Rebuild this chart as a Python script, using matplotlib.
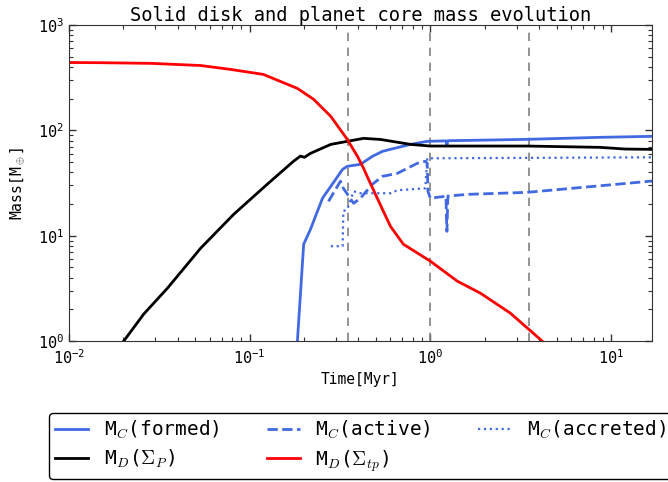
import math
import matplotlib
matplotlib.use('Agg')
import matplotlib.pyplot as plt
from matplotlib.ticker import FuncFormatter, LogLocator

plt.rcParams['font.family'] = 'DejaVu Sans Mono'
plt.rcParams['mathtext.fontset'] = 'cm'

# time [Myr] / mass [M_earth]
t_formed = [0.183, 0.199, 0.217, 0.253, 0.327, 0.347, 0.410, 0.478, 0.543, 0.601,
            0.776, 0.961, 1.22, 1.235, 1.25, 1.66, 3.43, 8.69, 16.4, 17.0]
m_formed = [0.9, 8.3, 11.5, 22.7, 42.7, 45.6, 47.6, 56.7, 63.2, 66.1,
            73.6, 78.7, 79.5, 72.0, 79.8, 80.4, 82.2, 85.9, 87.7, 88.0]

t_active = [0.273, 0.318, 0.330, 0.376, 0.410, 0.478, 0.543, 0.657, 0.847, 0.938,
            0.961, 0.970, 1.0, 1.22, 1.235, 1.25, 1.62, 3.43, 10.8, 16.4, 17.0]
m_active = [21.2, 32.9, 28.2, 20.3, 22.7, 30.8, 36.6, 39.1, 48.7, 50.9,
            48.7, 26.4, 22.7, 23.7, 11.0, 23.8, 24.7, 25.8, 30.8, 32.9, 33.0]

t_accreted = [0.281, 0.327, 0.330, 0.347, 0.376, 0.410, 0.601, 0.657, 0.938, 0.961,
              16.4, 17.0]
m_accreted = [7.95, 7.95, 17.1, 17.8, 26.4, 25.3, 25.3, 27.0, 28.2, 54.3,
              55.5, 55.5]

t_disk = [0.0195, 0.0201, 0.0259, 0.0352, 0.0535, 0.0817, 0.1256, 0.175, 0.191,
          0.201, 0.217, 0.281, 0.347, 0.427, 0.530, 0.700, 0.776, 1.0, 3.43,
          8.7, 12.0, 17.0]
m_disk = [0.95, 1.0, 1.8, 3.2, 7.6, 16.0, 31.0, 51.0, 57.0,
          55.5, 60.5, 73.6, 78.7, 84.0, 82.0, 75.8, 73.6, 71.0, 71.0,
          69.0, 66.5, 66.0]

t_gas = [0.01, 0.015, 0.0284, 0.0535, 0.0785, 0.119, 0.184, 0.226, 0.281, 0.347,
         0.395, 0.427, 0.454, 0.543, 0.601, 0.709, 1.0, 1.41, 1.89, 2.77, 4.05, 4.6]
m_gas = [441, 439, 433, 413, 379, 340, 250, 197, 136, 82.0,
         56.7, 43.6, 34.5, 17.8, 12.3, 8.3, 5.73, 3.70, 2.85, 1.84, 1.04, 0.85]

t_marks = [0.35, 1.0, 3.5]

fig = plt.figure(figsize=(6.68, 4.82), dpi=100)
ax = fig.add_axes([0.1033, 0.2925, 0.8727, 0.6555])

for tm in t_marks:
    ax.axvline(tm, color='gray', lw=1.2, dashes=(5, 4))

blue = '#4169e1'
l_formed, = ax.plot(t_formed, m_formed, color=blue, lw=2, label=r'M$_C$(formed)')
l_active, = ax.plot(t_active, m_active, color=blue, lw=2, ls='--', label=r'M$_C$(active)')
l_accr, = ax.plot(t_accreted, m_accreted, color=blue, lw=1.6, ls=':', label=r'M$_C$(accreted)')
l_disk, = ax.plot(t_disk, m_disk, color='black', lw=2, label=r'M$_D$($\Sigma_P$)')
l_gas, = ax.plot(t_gas, m_gas, color='red', lw=2, label=r'M$_D$($\Sigma_{tp}$)')

ax.set_xscale('log')
ax.set_yscale('log')
ax.set_xlim(0.01, 16.85)
ax.set_ylim(1, 1000)

fmt = FuncFormatter(lambda v, pos: r'$\mathregular{10^{%d}}$' % round(math.log10(v)))
ax.xaxis.set_major_formatter(fmt)
ax.yaxis.set_major_formatter(fmt)
ax.xaxis.set_major_locator(LogLocator(base=10))
ax.yaxis.set_major_locator(LogLocator(base=10))
ax.tick_params(which='both', direction='in', top=True, right=True, labelsize=11,
               color='#333333')
ax.tick_params(which='major', length=5, width=1)
ax.tick_params(axis='x', which='major', pad=5)
ax.tick_params(which='minor', length=3, width=0.8)
for sp in ax.spines.values():
    sp.set_color('#333333')

ax.set_title('Solid disk and planet core mass evolution', fontsize=13.5, pad=3)
ax.set_xlabel('Time[Myr]', fontsize=10.5)
ax.set_ylabel(r'Mass[M$_\oplus$]', fontsize=10.5, labelpad=7.5)

# column-major fill: formed/disk, active/gas, accreted
handles = [l_formed, l_disk, l_active, l_gas, l_accr]
leg = ax.legend(handles=handles, labels=[h.get_label() for h in handles],
                loc='upper center', bbox_to_anchor=(0.5, -0.228), ncol=3,
                fontsize=14, fancybox=True, framealpha=1, edgecolor='black',
                handlelength=1.7, handletextpad=0.8, columnspacing=2.45,
                labelspacing=0.35, borderpad=0.3, borderaxespad=0)
leg.get_frame().set_linewidth(1)

fig.savefig('out.png', dpi=100)
